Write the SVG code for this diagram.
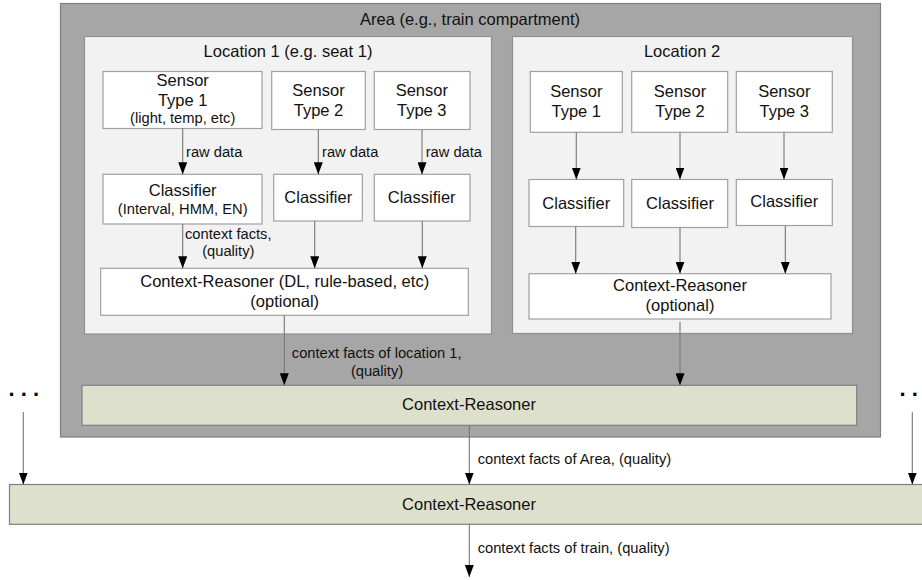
<svg xmlns="http://www.w3.org/2000/svg" width="922" height="580" viewBox="0 0 922 580">
<style>
text{font-family:"Liberation Sans",Arial,sans-serif;fill:#111;text-anchor:middle}
.m{font-size:16.5px}
.s{font-size:14.7px}
.l{text-anchor:start}
.area{fill:#a6a6a6;stroke:#7f7f7f;stroke-width:1.2}
.loc{fill:#f2f2f2;stroke:#909090;stroke-width:1.2}
.box{fill:#ffffff;stroke:#a0a0a0;stroke-width:1.2}
.cr{fill:#dde0cb;stroke:#808080;stroke-width:1.2}
.c{stroke:#777;stroke-width:1.1;fill:none;marker-end:url(#ah)}
.dots{font-size:22px;font-weight:bold;text-anchor:start;fill:#000}
</style>
<defs>
<marker id="ah" markerWidth="12" markerHeight="9" refX="12" refY="4.5" orient="auto" markerUnits="userSpaceOnUse" viewBox="0 0 12 9">
<path d="M0,0 L12,4.5 L0,9 z" fill="#000"/>
</marker>
</defs>

<g id="area">
<rect class="area" x="60.5" y="3.5" width="820" height="433.5"/>
<text class="m" x="470" y="25">Area (e.g., train compartment)</text>
</g>

<g id="location1">
<rect class="loc" x="84.5" y="36.5" width="407" height="297.5"/>
<text class="m" x="288" y="57">Location 1 (e.g. seat 1)</text>
</g>
<g id="location2">
<rect class="loc" x="512.5" y="36.5" width="340" height="297"/>
<text class="m" x="682" y="57">Location 2</text>
</g>

<g id="l1-sensor1">
<rect class="box" x="103" y="71.5" width="159" height="57"/>
<text class="m" x="182.7" y="86">Sensor</text>
<text class="m" x="182.7" y="106">Type 1</text>
<text class="s" x="182.7" y="122.5">(light, temp, etc)</text>
</g>
<g id="l1-sensor2">
<rect class="box" x="271.7" y="71.5" width="93.6" height="58"/>
<text class="m" x="318.5" y="96">Sensor</text>
<text class="m" x="318.5" y="115.5">Type 2</text>
</g>
<g id="l1-sensor3">
<rect class="box" x="374.3" y="71.5" width="95.7" height="58"/>
<text class="m" x="421.8" y="96">Sensor</text>
<text class="m" x="421.8" y="115.5">Type 3</text>
</g>
<g id="l1-classifier1">
<rect class="box" x="103" y="174.3" width="159" height="49.7"/>
<text class="m" x="182.7" y="195.7">Classifier</text>
<text class="s" x="182.7" y="213.5">(Interval, HMM, EN)</text>
</g>
<g id="l1-classifier2">
<rect class="box" x="273.7" y="174.3" width="88.6" height="46.7"/>
<text class="m" x="318.3" y="203">Classifier</text>
</g>
<g id="l1-classifier3">
<rect class="box" x="374.3" y="174.3" width="95.7" height="46.7"/>
<text class="m" x="421.7" y="203">Classifier</text>
</g>
<g id="l1-reasoner">
<rect class="box" x="100.7" y="268.3" width="367.6" height="47"/>
<text class="m" x="284.7" y="286.7">Context-Reasoner (DL, rule-based, etc)</text>
<text class="m" x="284.7" y="306.7">(optional)</text>
</g>

<g id="l2-sensor1">
<rect class="box" x="530.3" y="71.5" width="92" height="60.8"/>
<text class="m" x="576.3" y="96.7">Sensor</text>
<text class="m" x="576.3" y="116.7">Type 1</text>
</g>
<g id="l2-sensor2">
<rect class="box" x="631.7" y="71.5" width="96" height="60.8"/>
<text class="m" x="680" y="96.7">Sensor</text>
<text class="m" x="680" y="116.7">Type 2</text>
</g>
<g id="l2-sensor3">
<rect class="box" x="736.3" y="71.5" width="96" height="60.8"/>
<text class="m" x="784.3" y="96.7">Sensor</text>
<text class="m" x="784.3" y="116.7">Type 3</text>
</g>
<g id="l2-classifier1">
<rect class="box" x="529" y="179.5" width="94.7" height="47"/>
<text class="m" x="576.3" y="208.5">Classifier</text>
</g>
<g id="l2-classifier2">
<rect class="box" x="631.7" y="179.5" width="96" height="48"/>
<text class="m" x="680" y="209">Classifier</text>
</g>
<g id="l2-classifier3">
<rect class="box" x="736.3" y="179.5" width="96" height="46"/>
<text class="m" x="784.3" y="207">Classifier</text>
</g>
<g id="l2-reasoner">
<rect class="box" x="529" y="273.7" width="302" height="45.3"/>
<text class="m" x="680" y="291">Context-Reasoner</text>
<text class="m" x="680" y="310.7">(optional)</text>
</g>

<g id="area-reasoner">
<rect class="cr" x="82" y="385.3" width="774.7" height="40"/>
<text class="m" x="469" y="410">Context-Reasoner</text>
</g>
<g id="train-reasoner">
<rect class="cr" x="9.5" y="484.5" width="920" height="39.8"/>
<text class="m" x="469" y="509.5">Context-Reasoner</text>
</g>

<g id="dots-left"><text class="dots" x="8.5" y="396">. . .</text></g>
<g id="dots-right"><text class="dots" x="899.5" y="396">. .</text></g>

<g id="connectors">
<path class="c" d="M182.7,128.5 V174.3"/>
<path class="c" d="M318.3,129.5 V174.3"/>
<path class="c" d="M422,129.5 V174.3"/>
<path class="c" d="M182.7,224 V268.3"/>
<path class="c" d="M314.7,221 V268.3"/>
<path class="c" d="M422.3,221 V268.3"/>
<path class="c" d="M576.3,132.3 V179.5"/>
<path class="c" d="M680,132.3 V179.5"/>
<path class="c" d="M784,132.3 V179.5"/>
<path class="c" d="M575.7,226.5 V273.7"/>
<path class="c" d="M680,227.5 V273.7"/>
<path class="c" d="M785.3,225.5 V273.7"/>
<path class="c" d="M284.3,315.3 V385.3"/>
<path class="c" d="M680,321.7 V385.3"/>
<path class="c" d="M469.3,425.3 V484.5"/>
<path class="c" d="M23.3,412 V484.5"/>
<path class="c" d="M912.3,412 V484.5"/>
<path class="c" d="M469.3,524.3 V577"/>
<text class="s l" x="186" y="157.3">raw data</text>
<text class="s l" x="322" y="157.3">raw data</text>
<text class="s l" x="425.7" y="157.3">raw data</text>
<text class="s" x="228.3" y="238.7">context facts,</text>
<text class="s" x="228.3" y="256">(quality)</text>
<text class="s" x="376.7" y="358">context facts of location 1,</text>
<text class="s" x="377" y="376">(quality)</text>
<text class="s l" x="477.7" y="464.3">context facts of Area, (quality)</text>
<text class="s l" x="477.7" y="553.3">context facts of train, (quality)</text>
</g>
</svg>
